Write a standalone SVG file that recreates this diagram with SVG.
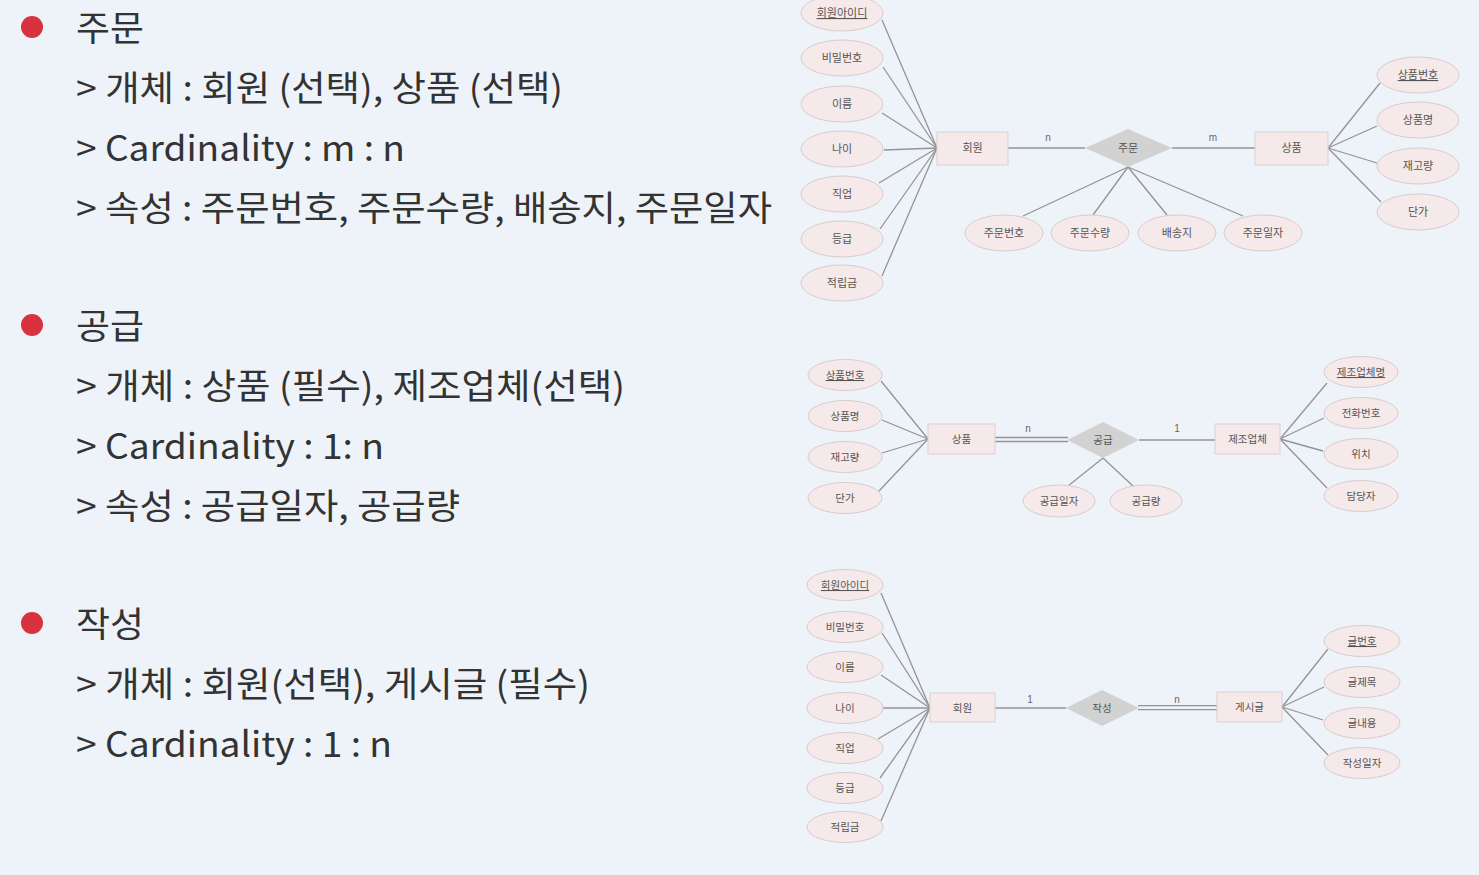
<svg xmlns="http://www.w3.org/2000/svg" width="1479" height="875" viewBox="0 0 1479 875">
<style>
.bg{fill:#eef3fa}
.bul{fill:#d8323f}
.t{font-family:"Noto Sans CJK KR","Noto Sans",sans-serif;font-size:35px;fill:#333}
.at ellipse{fill:#f6e9e9;stroke:#d8cccc;stroke-width:1}
.at text,.en text,.re text{font-family:"Noto Sans CJK KR","Noto Sans",sans-serif;font-size:11px;fill:#555;text-anchor:middle}
.g23 text{font-size:10.5px}
.en rect{fill:#f6e9e9;stroke:#dccfcf;stroke-width:1}
.re polygon{fill:#d2d2d2}
.u{text-decoration:underline}
.cn line{stroke:#949494;stroke-width:1.3}
.cl{font-family:"Liberation Sans",sans-serif;font-size:10px;fill:#666;text-anchor:middle}
</style>
<rect class="bg" x="0" y="0" width="1479" height="875"/>

<g id="text">
<circle class="bul" cx="32" cy="27" r="11"/>
<text class="t" x="76" y="41" textLength="68" lengthAdjust="spacingAndGlyphs">주문</text>
<text class="t" x="76" y="101" textLength="487" lengthAdjust="spacingAndGlyphs">&gt; 개체 : 회원 (선택), 상품 (선택)</text>
<text class="t" x="76" y="161" textLength="329" lengthAdjust="spacingAndGlyphs">&gt; Cardinality : m : n</text>
<text class="t" x="76" y="221" textLength="696" lengthAdjust="spacingAndGlyphs">&gt; 속성 : 주문번호, 주문수량, 배송지, 주문일자</text>

<circle class="bul" cx="32" cy="325" r="11"/>
<text class="t" x="76" y="339" textLength="68" lengthAdjust="spacingAndGlyphs">공급</text>
<text class="t" x="76" y="399" textLength="549" lengthAdjust="spacingAndGlyphs">&gt; 개체 : 상품 (필수), 제조업체(선택)</text>
<text class="t" x="76" y="459" textLength="308" lengthAdjust="spacingAndGlyphs">&gt; Cardinality : 1: n</text>
<text class="t" x="76" y="519" textLength="384" lengthAdjust="spacingAndGlyphs">&gt; 속성 : 공급일자, 공급량</text>

<circle class="bul" cx="32" cy="623" r="11"/>
<text class="t" x="76" y="637" textLength="68" lengthAdjust="spacingAndGlyphs">작성</text>
<text class="t" x="76" y="697" textLength="514" lengthAdjust="spacingAndGlyphs">&gt; 개체 : 회원(선택), 게시글 (필수)</text>
<text class="t" x="76" y="757" textLength="316" lengthAdjust="spacingAndGlyphs">&gt; Cardinality : 1 : n</text>
</g>

<g id="connectors" class="cn">
<!-- diagram 1 -->
<line x1="882" y1="20" x2="937" y2="148"/>
<line x1="883" y1="67" x2="937" y2="148"/>
<line x1="882" y1="113" x2="937" y2="148"/>
<line x1="884" y1="150" x2="937" y2="148"/>
<line x1="879" y1="183" x2="937" y2="148"/>
<line x1="880" y1="229" x2="937" y2="148"/>
<line x1="882" y1="276" x2="937" y2="148"/>
<line x1="1008" y1="148" x2="1085" y2="148"/>
<line x1="1172" y1="148" x2="1255" y2="148"/>
<line x1="1328" y1="148" x2="1380" y2="83"/>
<line x1="1328" y1="148" x2="1377" y2="126"/>
<line x1="1328" y1="148" x2="1377" y2="163"/>
<line x1="1328" y1="148" x2="1381" y2="202"/>
<line x1="1128" y1="167" x2="1023" y2="216"/>
<line x1="1128" y1="167" x2="1093" y2="215"/>
<line x1="1128" y1="167" x2="1167" y2="215"/>
<line x1="1128" y1="167" x2="1243" y2="216"/>
<!-- diagram 2 -->
<line x1="881" y1="381" x2="928" y2="439"/>
<line x1="882" y1="420" x2="928" y2="439"/>
<line x1="882" y1="453" x2="928" y2="439"/>
<line x1="879" y1="491" x2="928" y2="439"/>
<line x1="995" y1="437.5" x2="1068" y2="437.5"/>
<line x1="995" y1="441.5" x2="1068" y2="441.5"/>
<line x1="1139" y1="440" x2="1215" y2="440"/>
<line x1="1280" y1="439" x2="1327" y2="383"/>
<line x1="1280" y1="439" x2="1324" y2="418"/>
<line x1="1280" y1="439" x2="1323" y2="451"/>
<line x1="1280" y1="439" x2="1327" y2="488"/>
<line x1="1103" y1="458" x2="1068" y2="486"/>
<line x1="1103" y1="458" x2="1133" y2="486"/>
<!-- diagram 3 -->
<line x1="881" y1="593" x2="930" y2="708"/>
<line x1="882" y1="633" x2="930" y2="708"/>
<line x1="881" y1="675" x2="930" y2="708"/>
<line x1="883" y1="708" x2="930" y2="708"/>
<line x1="878" y1="739" x2="930" y2="708"/>
<line x1="880" y1="778" x2="930" y2="708"/>
<line x1="881" y1="821" x2="930" y2="708"/>
<line x1="995" y1="708" x2="1066" y2="708"/>
<line x1="1138" y1="705.7" x2="1217" y2="705.7"/>
<line x1="1138" y1="709.7" x2="1217" y2="709.7"/>
<line x1="1282" y1="707" x2="1328" y2="649"/>
<line x1="1282" y1="707" x2="1324" y2="687"/>
<line x1="1282" y1="707" x2="1323" y2="720"/>
<line x1="1282" y1="707" x2="1328" y2="755"/>
</g>

<g id="card-labels">
<text class="cl" x="1048" y="141">n</text>
<text class="cl" x="1213" y="141">m</text>
<text class="cl" x="1028" y="432">n</text>
<text class="cl" x="1177" y="432">1</text>
<text class="cl" x="1030" y="703">1</text>
<text class="cl" x="1177" y="703">n</text>
</g>

<!-- diagram 1 nodes -->
<g id="d1-member-id" class="at"><ellipse cx="842" cy="13" rx="41" ry="18"/><text class="u" x="842" y="17">회원아이디</text></g>
<g id="d1-password" class="at"><ellipse cx="842" cy="58" rx="41" ry="18"/><text x="842" y="62">비밀번호</text></g>
<g id="d1-name" class="at"><ellipse cx="842" cy="104" rx="41" ry="18"/><text x="842" y="108">이름</text></g>
<g id="d1-age" class="at"><ellipse cx="842" cy="149" rx="41" ry="18"/><text x="842" y="153">나이</text></g>
<g id="d1-job" class="at"><ellipse cx="842" cy="194" rx="41" ry="18"/><text x="842" y="198">직업</text></g>
<g id="d1-grade" class="at"><ellipse cx="842" cy="239" rx="41" ry="18"/><text x="842" y="243">등급</text></g>
<g id="d1-points" class="at"><ellipse cx="842" cy="283" rx="41" ry="18"/><text x="842" y="287">적립금</text></g>
<g id="d1-member" class="en"><rect x="937" y="132" width="71" height="33"/><text x="972.5" y="152">회원</text></g>
<g id="d1-order" class="re"><polygon points="1085,148 1128,129 1172,148 1128,167"/><text x="1128" y="152">주문</text></g>
<g id="d1-product" class="en"><rect x="1255" y="132" width="73" height="33"/><text x="1291.5" y="152">상품</text></g>
<g id="d1-product-no" class="at"><ellipse cx="1418" cy="75" rx="41" ry="18"/><text class="u" x="1418" y="79">상품번호</text></g>
<g id="d1-product-name" class="at"><ellipse cx="1418" cy="120" rx="41" ry="18"/><text x="1418" y="124">상품명</text></g>
<g id="d1-stock" class="at"><ellipse cx="1418" cy="166" rx="41" ry="18"/><text x="1418" y="170">재고량</text></g>
<g id="d1-price" class="at"><ellipse cx="1418" cy="212" rx="41" ry="18"/><text x="1418" y="216">단가</text></g>
<g id="d1-order-no" class="at"><ellipse cx="1004" cy="233" rx="39" ry="18"/><text x="1004" y="237">주문번호</text></g>
<g id="d1-order-qty" class="at"><ellipse cx="1090" cy="233" rx="39" ry="18"/><text x="1090" y="237">주문수량</text></g>
<g id="d1-ship" class="at"><ellipse cx="1177" cy="233" rx="39" ry="18"/><text x="1177" y="237">배송지</text></g>
<g id="d1-order-date" class="at"><ellipse cx="1263" cy="233" rx="39" ry="18"/><text x="1263" y="237">주문일자</text></g>

<!-- diagram 2 nodes -->
<g class="g23">
<g id="d2-product-no" class="at"><ellipse cx="845" cy="375" rx="37" ry="15.5"/><text class="u" x="845" y="379">상품번호</text></g>
<g id="d2-product-name" class="at"><ellipse cx="845" cy="416" rx="37" ry="15.5"/><text x="845" y="420">상품명</text></g>
<g id="d2-stock" class="at"><ellipse cx="845" cy="457" rx="37" ry="15.5"/><text x="845" y="461">재고량</text></g>
<g id="d2-price" class="at"><ellipse cx="845" cy="498" rx="37" ry="15.5"/><text x="845" y="502">단가</text></g>
<g id="d2-product" class="en"><rect x="928" y="424" width="67" height="30"/><text x="961.5" y="443">상품</text></g>
<g id="d2-supply" class="re"><polygon points="1067,440 1103,422 1139,440 1103,458"/><text x="1103" y="444">공급</text></g>
<g id="d2-maker" class="en"><rect x="1215" y="424" width="65" height="30"/><text x="1247.5" y="443">제조업체</text></g>
<g id="d2-maker-name" class="at"><ellipse cx="1361" cy="372" rx="37" ry="15.5"/><text class="u" x="1361" y="376">제조업체명</text></g>
<g id="d2-phone" class="at"><ellipse cx="1361" cy="413" rx="37" ry="15.5"/><text x="1361" y="417">전화번호</text></g>
<g id="d2-location" class="at"><ellipse cx="1361" cy="454" rx="37" ry="15.5"/><text x="1361" y="458">위치</text></g>
<g id="d2-manager" class="at"><ellipse cx="1361" cy="496" rx="37" ry="15.5"/><text x="1361" y="500">담당자</text></g>
<g id="d2-supply-date" class="at"><ellipse cx="1059" cy="501" rx="36" ry="16"/><text x="1059" y="505">공급일자</text></g>
<g id="d2-supply-qty" class="at"><ellipse cx="1146" cy="501" rx="36" ry="16"/><text x="1146" y="505">공급량</text></g>
</g>

<!-- diagram 3 nodes -->
<g class="g23">
<g id="d3-member-id" class="at"><ellipse cx="845" cy="585" rx="38" ry="15.5"/><text class="u" x="845" y="589">회원아이디</text></g>
<g id="d3-password" class="at"><ellipse cx="845" cy="627" rx="38" ry="15.5"/><text x="845" y="631">비밀번호</text></g>
<g id="d3-name" class="at"><ellipse cx="845" cy="667" rx="38" ry="15.5"/><text x="845" y="671">이름</text></g>
<g id="d3-age" class="at"><ellipse cx="845" cy="708" rx="38" ry="15.5"/><text x="845" y="712">나이</text></g>
<g id="d3-job" class="at"><ellipse cx="845" cy="748" rx="38" ry="15.5"/><text x="845" y="752">직업</text></g>
<g id="d3-grade" class="at"><ellipse cx="845" cy="788" rx="38" ry="15.5"/><text x="845" y="792">등급</text></g>
<g id="d3-points" class="at"><ellipse cx="845" cy="827" rx="38" ry="15.5"/><text x="845" y="831">적립금</text></g>
<g id="d3-member" class="en"><rect x="930" y="693" width="65" height="29"/><text x="962.5" y="711.5">회원</text></g>
<g id="d3-write" class="re"><polygon points="1066,708 1102,690 1139,708 1102,726"/><text x="1102" y="712">작성</text></g>
<g id="d3-post" class="en"><rect x="1217" y="692" width="65" height="30"/><text x="1249.5" y="711">게시글</text></g>
<g id="d3-post-no" class="at"><ellipse cx="1362" cy="641" rx="38" ry="15.5"/><text class="u" x="1362" y="645">글번호</text></g>
<g id="d3-post-title" class="at"><ellipse cx="1362" cy="682" rx="38" ry="15.5"/><text x="1362" y="686">글제목</text></g>
<g id="d3-post-body" class="at"><ellipse cx="1362" cy="723" rx="38" ry="15.5"/><text x="1362" y="727">글내용</text></g>
<g id="d3-post-date" class="at"><ellipse cx="1362" cy="763" rx="38" ry="15.5"/><text x="1362" y="767">작성일자</text></g>
</g>
</svg>
